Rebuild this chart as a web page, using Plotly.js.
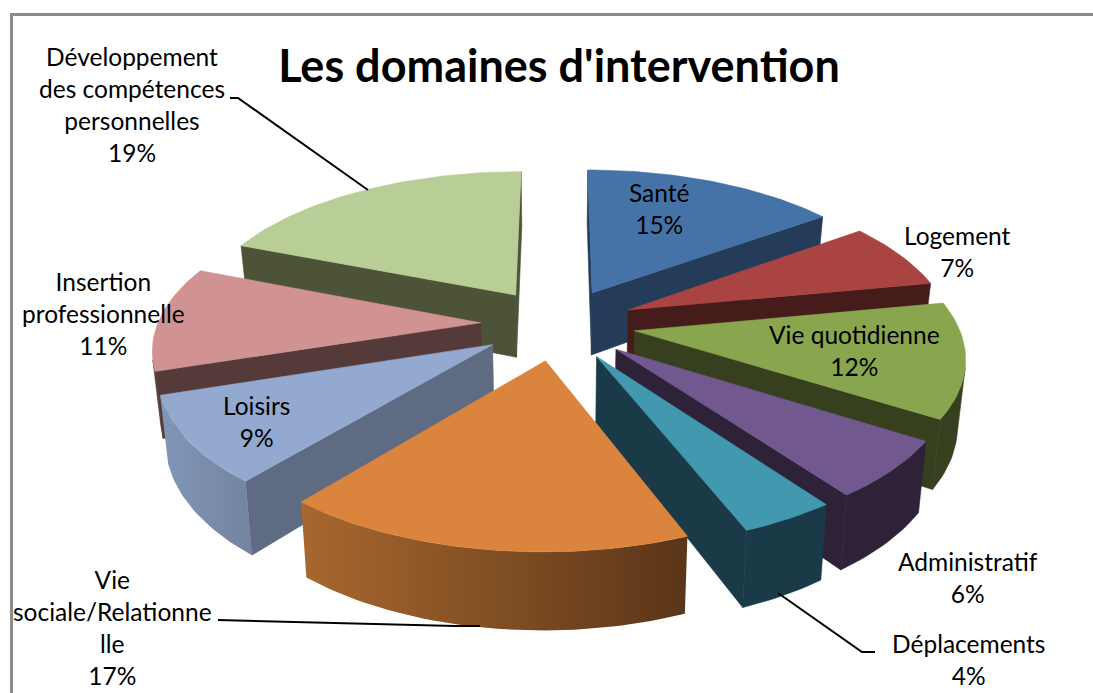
<!DOCTYPE html>
<html><head><meta charset="utf-8">
<script src="https://cdn.plot.ly/plotly-3.0.1.min.js"></script>
<style>html,body{margin:0;padding:0;background:#fff;overflow:hidden}</style>
</head><body><div id="chart" style="width:1093px;height:693px"></div>
<script>
// Data
const categories = ["Santé","Logement","Vie quotidienne","Administratif","Déplacements","Vie<br>sociale/Relationne<br>lle","Loisirs","Insertion<br>professionnelle","Développement<br>des compétences<br>personnelles"];
const shares = [15,7,12,6,4,17,9,11,19];
const topColors = ["#4573A7","#A94442","#89A54E","#71588F","#4198AF","#DB843D","#93A9CF","#D19392","#B9CD96"];
const wallColors = ["#243B5A","#451C1A","#36401E","#2D2238","#1A3A47","#5A3518","#5E6B82","#553A3A","#4C5337"];
const rimGradients = [null,null,null,null,null,["#A8682F","#5A3518"],["#8196B8","#73849E"],null,null];
const labelX = [659,957,854,968,968,112,256,103,132];
const labelY = [208,251,350,577,659,627,421,313,104];
const chartTitle = "Les domaines d'intervention";

// Projection of the exploded pie
const CX=558, CY=324, R=323, RY=150, K=0.15, PULL=0.24, DEPTH=64, BOTTOM_SHRINK=0.98;
function project(u,v){
  const s=1/(1-K*v);
  return [CX+R*u*s, CY+RY*v*s, s];
}
function lower(p){return [CX+(p[0]-CX)*BOTTOM_SHRINK, p[1]+DEPTH*p[2]];}
function area(poly){let a=0;for(let i=0;i<poly.length;i++){const p=poly[i],q=poly[(i+1)%poly.length];a+=p[0]*q[1]-q[0]*p[1];}return a/2;}
function poly(points,color,gradient,name){
  const t={type:'scatter',mode:'lines',x:points.map(p=>p[0]),y:points.map(p=>p[1]),fill:'toself',
    line:{width:0.6,color:color},hoverinfo:'skip',showlegend:false,name:name};
  t.x.push(t.x[0]);t.y.push(t.y[0]);
  if(gradient){t.fillgradient={type:'horizontal',colorscale:[[0,gradient[0]],[1,gradient[1]]]};t.line.width=0;}
  else t.fillcolor=color;
  return t;
}
const total=shares.reduce((a,b)=>a+b,0);
let cum=0;
const slices=shares.map((s,i)=>{const a=cum/total*2*Math.PI;cum+=s;const b=cum/total*2*Math.PI;
  const m=(a+b)/2;return {i,a,b,m,ox:PULL*Math.sin(m),oy:-PULL*Math.cos(m)};});
const order=slices.slice().sort((p,q)=>p.oy-q.oy);
const traces=[];
order.forEach(sl=>{
  const N=Math.max(8,Math.round((sl.b-sl.a)*40));
  const arc=[];
  for(let j=0;j<=N;j++){const t=sl.a+(sl.b-sl.a)*j/N;arc.push(project(sl.ox+Math.sin(t),sl.oy-Math.cos(t)));}
  const apex=project(sl.ox,sl.oy);
  const name=categories[sl.i].replace(/<br>/g,' ');
  // radial walls (front-facing only)
  [[apex,arc[0]],[arc[N],apex]].forEach(e=>{
    const w=[e[0],e[1],lower(e[1]),lower(e[0])];
    if(area(w)<0) traces.push(poly(w,wallColors[sl.i],null,name+' wall'));
  });
  // outer rim: visible part only
  const vis=[];
  for(let j=0;j<N;j++){
    const w=[arc[j],arc[j+1],lower(arc[j+1]),lower(arc[j])];
    if(area(w)<0){ if(!vis.length) vis.push(arc[j]); vis.push(arc[j+1]); }
  }
  if(vis.length>1){
    const w=vis.concat(vis.slice().reverse().map(lower));
    traces.push(poly(w,wallColors[sl.i],rimGradients[sl.i],name+' rim'));
  }
  traces.push(poly([apex].concat(arc),topColors[sl.i],null,name));
});

const F="Lato, 'Open Sans', sans-serif";
const annotations=categories.map((c,i)=>({x:labelX[i],y:labelY[i],xref:'x',yref:'y',text:c+'<br>'+shares[i]+'%',
  showarrow:false,xanchor:'center',yanchor:'middle',align:'center',font:{family:F,size:24.5,color:'#000'}}));
const leaders=[[[230,238,368],[98,98,190]],[[218,455,480],[620,626,626]],[[778,862,875],[593,652,652]]];
const shapes=leaders.map(l=>({type:'path',xref:'x',yref:'y',
  path:'M'+l[0].map((x,j)=>x+' '+l[1][j]).join(' L '),line:{color:'#000',width:2}}));
shapes.push({type:'path',xref:'x',yref:'y',path:'M 11.5 700 L 11.5 14.5 L 1100 14.5',line:{color:'#8c8c8c',width:3}});

Plotly.newPlot('chart',traces,{
  width:1093,height:693,margin:{l:0,r:0,t:0,b:0},paper_bgcolor:'#fff',plot_bgcolor:'#fff',showlegend:false,
  title:{text:'<b>'+chartTitle+'</b>',x:559/1093,y:1-66/693,xanchor:'center',yanchor:'middle',font:{family:F,size:45,color:'#000'}},
  xaxis:{range:[0,1093],visible:false,fixedrange:true},
  yaxis:{range:[693,0],visible:false,fixedrange:true},
  annotations:annotations,shapes:shapes
},{displayModeBar:false,staticPlot:true});
</script></body></html>
